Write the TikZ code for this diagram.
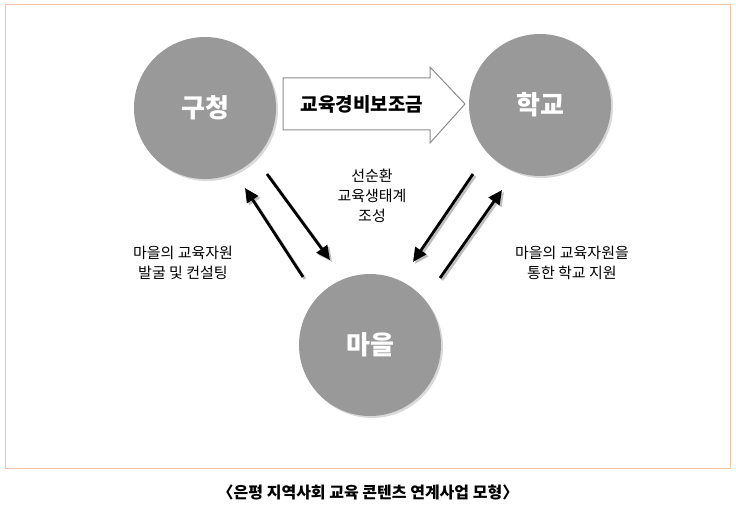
\documentclass[tikz,border=0pt]{standalone}
\usepackage{fontspec}
\newfontfamily\kr{Noto Sans CJK KR}
\usetikzlibrary{arrows.meta,shadows}
\begin{document}
\begin{tikzpicture}[x=1pt,y=-1pt,
  circ/.style={circle,fill=black!40,minimum size=142pt,inner sep=0,text=white,font=\kr\bfseries\fontsize{26}{28}\selectfont,drop shadow={shadow xshift=2pt,shadow yshift=-2pt,opacity=0.3}},
  lbl/.style={font=\kr\fontsize{15}{20}\selectfont,align=center},
  arr/.style={line width=2.8pt,-{Triangle[width=13pt,length=14pt]},black}]
\useasboundingbox (0,0) rectangle (736,508);
\draw[draw={rgb,255:red,240;green,196;blue,165},line width=1pt] (5,5) rectangle (730,468);
\node[circ] (a) at (205,108) {구청};
\node[circ] (b) at (540,105) {학교};
\node[circ] (c) at (370,345) {마을};
\draw[black!45,line width=1pt,fill=white] (283,78) -- (430,78) -- (430,67) -- (465,104) -- (430,143) -- (430,130) -- (283,130) -- cycle;
\node[font=\kr\bfseries\fontsize{19}{22}\selectfont] (t) at (362,104) {교육경비보조금};
\coordinate (l1s) at (267,174); \coordinate (l1e) at (330,260);
\coordinate (l2s) at (303,277); \coordinate (l2e) at (245,188);
\coordinate (r1s) at (473,174); \coordinate (r1e) at (413,262);
\coordinate (r2s) at (440,278); \coordinate (r2e) at (502,190);
\foreach \s/\e in {l1s/l1e,l2s/l2e,r1s/r1e,r2s/r2e}{
  \draw[arr,black!25,transform canvas={xshift=2pt,yshift=-2pt}] (\s) -- (\e);
  \draw[arr] (\s) -- (\e);}
\node[lbl] (m) at (372,196) {선순환\\교육생태계\\조성};
\node[lbl] (l) at (183,263) {마을의 교육자원\\발굴 및 컨설팅};
\node[lbl] (r) at (572,263) {마을의 교육자원을\\통한 학교 지원};
\node[font=\kr\bfseries\fontsize{16}{18}\selectfont] (cap) at (368,492) {〈은평 지역사회 교육 콘텐츠 연계사업 모형〉};
\end{tikzpicture}
\end{document}
